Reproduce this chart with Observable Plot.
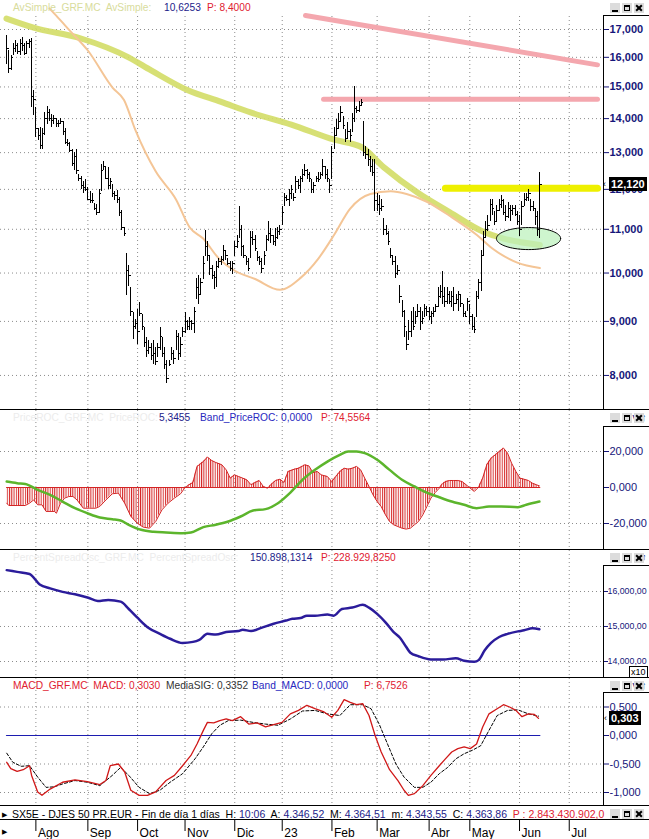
<!DOCTYPE html>
<html><head><meta charset="utf-8">
<script src="https://cdn.jsdelivr.net/npm/d3@7"></script>
<script src="https://cdn.jsdelivr.net/npm/@observablehq/plot@0.6"></script>
<style>
body{margin:0;background:#fff}
#c{position:relative;width:649px;height:839px;overflow:hidden;background:#fff;font-family:"Liberation Sans",Arial,sans-serif;font-size:11px}
.hl{position:absolute;left:0;width:649px;height:1px;background:#000}
.axbox{position:absolute;left:603px;width:46px;border-left:1px solid #000;border-top:1px solid #000;box-sizing:border-box}
.t{position:absolute;white-space:nowrap;font-size:10.5px;line-height:12px}
.h{font-size:10.2px}
.bx{position:absolute;width:10px;height:10px;background:#dcdcdc;box-sizing:border-box}
.bx.u::after{content:"";position:absolute;left:2px;top:7px;width:6px;height:2px;background:#000}
.bx.s::after{content:"";position:absolute;left:2px;top:2px;width:6px;height:6px;border:1px solid #000;border-top-width:2px;box-sizing:border-box}
.bx.x::before,.bx.x::after{content:"";position:absolute;left:1px;top:4px;width:8px;height:2px;background:#000;transform:rotate(45deg)}
.bx.x::after{transform:rotate(-45deg)}
.lbl{position:absolute;background:#000;color:#fff;font-weight:bold;font-size:11px;line-height:14px;padding:0 2px}
</style></head>
<body>
<svg width="0" height="0" style="position:absolute"><defs>
<pattern id="hatch" patternUnits="userSpaceOnUse" width="2.26" height="8"><rect x="0" y="0" width="1" height="8" fill="#d42424"/></pattern>
</defs></svg>
<div id="c"></div>
<script>
// ---------- DATA ----------
// daily bars (trading-day index 0 = mid July 2022)
const barHi = [16.78,16.24,16.07,16.5,16.6,16.5,16.65,16.7,16.5,16.55,16.65,16.68,14.9,
14.35,13.7,13.72,13.7,14.18,14.38,14.28,14.12,14.1,14.0,13.95,14.0,13.9,13.7,13.37,13.3,13.1,13.0,13.09,12.4,12.35,12.2,12.25,
12.05,11.95,11.9,11.64,11.6,12.0,12.67,12.75,12.6,12.58,12.3,12.13,11.95,11.97,11.8,11.45,11.05,10.43,10.17,9.68,9.17,9.03,
9.23,9.38,9.13,8.88,8.69,8.63,8.57,8.63,8.5,8.57,8.88,8.69,8.5,8.27,8.27,8.5,8.45,8.82,8.76,8.69,8.88,
9.17,9.01,9.07,9.01,9.27,9.89,9.95,9.89,10.37,10.97,10.7,10.37,10.17,10.04,10.25,10.32,10.37,10.62,10.5,10.32,10.25,10.25,
10.7,10.85,11.55,11.08,10.62,10.37,10.32,10.95,10.95,10.85,10.48,10.37,10.32,10.48,10.85,11.2,11.01,10.85,11.01,11.05,11.08,
11.55,11.9,11.83,12.0,12.1,11.9,12.35,12.27,12.35,12.53,12.67,12.53,12.45,12.27,12.19,12.35,12.45,12.45,12.81,12.62,12.53,12.27,
13.17,13.74,13.96,14.17,14.36,14.05,13.66,13.87,13.66,14.17,15.03,14.36,14.52,14.58,13.9,13.17,13.09,12.9,12.81,12.81,
11.9,11.83,11.75,11.25,11.08,10.95,10.55,10.37,10.37,10.17,9.74,9.41,9.21,8.8,9.01,9.2,9.27,9.2,9.33,9.27,9.2,9.33,9.3,
9.27,9.2,9.27,9.33,9.68,9.74,10.04,9.68,9.68,9.61,9.61,9.68,9.55,9.61,9.55,9.33,9.2,9.47,
9.33,9.13,9.07,9.61,9.85,10.5,10.95,11.18,11.33,11.75,11.75,11.43,11.58,11.75,11.83,11.75,11.58,11.65,11.58,11.58,11.58,11.43,
11.33,11.68,11.9,11.9,12.0,11.75,11.68,11.5,11.43,12.45];
const barLo = [15.75,15.45,15.55,16.07,16.17,16.1,16.05,16.2,16.05,16.1,16.3,14.35,14.1,
13.45,13.35,13.09,13.1,13.5,13.83,13.9,13.72,13.83,13.72,13.72,13.83,13.5,13.23,13.17,13.0,12.6,12.5,12.4,12.2,12.0,11.9,11.95,
11.7,11.64,11.64,11.45,11.33,11.38,11.95,12.5,12.27,12.0,12.0,11.8,11.7,11.64,11.3,10.97,10.82,9.52,9.72,9.1,8.65,8.85,
8.55,9.1,8.82,8.5,8.32,8.37,8.27,8.2,8.18,8.32,8.45,8.32,8.1,7.86,8.15,8.27,8.2,8.45,8.27,8.32,8.69,
8.76,8.82,8.82,8.82,8.76,9.43,9.33,9.53,9.85,10.37,10.25,9.95,9.85,9.64,9.68,10.1,10.17,10.25,10.28,10.17,10.04,9.97,
10.37,10.55,10.78,10.37,10.32,10.17,10.04,10.32,10.62,10.48,10.25,10.17,9.99,10.17,10.48,10.7,10.66,10.62,10.6,10.75,10.85,
11.08,11.55,11.68,11.55,11.75,11.68,11.9,12.0,11.9,12.19,12.35,12.27,12.19,11.9,11.9,12.19,12.19,12.27,12.35,12.27,12.19,11.9,
12.27,13.09,13.46,13.66,13.87,13.66,13.28,13.37,13.28,13.57,13.87,14.17,14.2,14.36,12.9,12.81,12.62,12.45,12.35,11.43,
11.43,11.33,11.43,10.85,10.85,10.62,10.32,10.17,9.89,9.95,9.35,9.07,8.69,8.45,8.63,8.69,8.82,8.94,9.07,8.82,8.94,9.07,9.1,
9.01,8.94,9.07,9.2,9.27,9.47,9.33,9.27,9.33,9.33,9.27,9.2,9.33,9.2,9.27,9.07,9.07,9.2,
8.94,8.82,8.76,9.07,9.45,9.6,10.37,10.78,10.95,11.18,11.33,11.08,11.18,11.43,11.5,11.33,11.18,11.25,11.18,11.33,11.3,11.08,
10.82,11.08,11.55,11.68,11.68,11.43,11.43,11.08,10.82,10.78];
const barCl = [16.3,15.6,16.0,16.3,16.4,16.2,16.5,16.4,16.15,16.5,16.55,14.7,14.6,
13.7,13.5,13.2,13.55,14.0,14.2,14.0,13.95,14.0,13.85,13.85,13.9,13.6,13.3,13.25,13.05,12.7,12.9,12.5,12.3,12.1,12.05,12.0,
11.75,11.7,11.72,11.5,11.4,11.9,12.5,12.6,12.3,12.1,12.2,11.9,11.85,11.75,11.4,11.05,10.9,10.06,9.95,9.2,8.9,8.95,
8.8,9.15,8.9,8.6,8.45,8.5,8.35,8.4,8.25,8.5,8.7,8.4,8.2,7.95,8.2,8.4,8.3,8.7,8.4,8.55,8.8,
9.0,8.9,9.0,8.95,9.2,9.7,9.55,9.8,10.2,10.6,10.4,10.1,9.95,9.9,10.15,10.25,10.3,10.5,10.4,10.2,10.1,10.2,
10.6,10.7,11.0,10.6,10.4,10.25,10.1,10.8,10.75,10.55,10.35,10.25,10.1,10.4,10.75,10.9,10.85,10.7,10.8,10.95,11.0,
11.4,11.8,11.75,11.9,12.0,11.8,12.2,12.1,12.3,12.4,12.5,12.4,12.3,12.0,12.1,12.3,12.25,12.4,12.6,12.4,12.3,12.1,
13.0,13.5,13.7,13.9,14.2,13.8,13.4,13.6,13.5,14.0,14.3,14.25,14.4,14.5,13.0,12.95,12.8,12.6,12.45,11.7,
11.6,11.5,11.55,11.0,10.9,10.7,10.4,10.25,10.0,10.05,9.5,9.2,8.9,8.55,8.8,9.0,8.9,9.1,9.2,9.0,9.05,9.25,9.2,
9.1,9.15,9.2,9.3,9.5,9.6,9.5,9.4,9.55,9.4,9.5,9.35,9.45,9.55,9.35,9.15,9.1,9.4,
9.1,8.9,8.85,9.5,9.8,10.4,10.8,11.0,11.1,11.6,11.5,11.2,11.45,11.6,11.7,11.4,11.3,11.5,11.45,11.5,11.35,11.2,
11.0,11.55,11.75,11.8,11.9,11.55,11.5,11.3,11.0,12.12];

// moving averages (read at sample bars)
const avLongIdx = [0,12,33,54,64,80,95,108,126,145,157,167,182,196,211,220,236];
const avLongVal = [17.41,17.07,16.67,16.0,15.55,14.9,14.52,14.19,13.82,13.37,13.16,12.59,11.91,11.42,10.94,10.78,10.63];
const avShortIdx = [19,22,28,36,47,52,57,66,75,81,87,94,101,110,121,130,138,145,152,161,170,177,186,196,208,215,226,236];
const avShortVal = [17.80,17.52,16.96,16.24,14.97,14.58,13.66,12.48,11.74,11.05,10.78,10.32,10.05,9.87,9.64,9.89,10.32,10.87,11.5,11.88,11.95,11.88,11.68,11.33,10.87,10.55,10.23,10.11];
// drawn objects
const pinkTrendIdx = [132.3, 261.5], pinkTrendVal = [17.53, 15.74];
const pinkFlatIdx = [140.3, 261.5], pinkFlatVal = [14.6, 14.6];
const yellowIdx = [194.2, 261.5], yellowVal = [12.03, 12.03];
const ellipseCenter = [231, 10.78], ellipseRadius = [14.2, 0.024];

// PriceROC panel
const rocIdx = [0.1,1,4.7,8.3,10.2,12,13.8,15.7,17.5,21.2,22.1,23.9,25.7,27.6,29.4,31.2,34,36.7,39.5,41.3,44,46.8,49.5,52.3,55,57.8,60.5,63.3,66,68.8,71.5,74.3,77,78.8,80.7,82.5,84.3,87.1,88.9,90.8,92.6,95.3,97.2,99,100.8,102.7,104.5,106.3,108.2,110,111.8,113.6,115.5,117.3,119.1,121,122.8,124.6,127.4,129.2,132,133.8,135.6,137.5,139.3,142,143.9,145.7,147.5,149.4,151.2,153,154.9,156.7,158.5,160.4,162.2,164,165.8,167.7,169.5,171.3,173.2,175,176.8,178.7,180.5,182.3,184.2,186,187.8,189.7,191.5,192.4,194.2,196.1,197.9,199.7,201.6,203.4,205.2,207,208.9,210.7,212.5,214.4,216.2,218,219.9,221.7,223.5,225.4,227.2,229,230.9,232.7,234.5,235.8];
const rocVal = [-8.7,-10,-10,-10,-8.7,-6.9,-9.6,-9.6,-13.3,-13.3,-14.3,-8.7,-5.9,-5,-5,-6.9,-11.5,-11.5,-11.5,-10.5,-6.9,-3.5,-3.1,-8.7,-16,-19.8,-22,-22.6,-18.9,-12.4,-8.7,-5.9,-3.5,-0.4,1.5,2.8,11.7,14.4,16.9,15,13.9,12.6,9.8,5.2,7,6.1,5.2,4.3,1.5,2.8,3.9,0.6,-0.4,2,3.9,4.6,2.8,8.9,10.2,10.7,12.6,12,8.3,8.9,7,6.1,3.3,6.1,8.9,10.7,10.2,10.7,11.7,9.8,5.2,0.6,-4.1,-7.8,-10.6,-15.2,-18.9,-20.7,-21.7,-22.6,-23.1,-22.6,-20.7,-18.9,-15.2,-10.6,-5.9,-2.8,-0.4,1.5,3.3,3.9,3.9,3.9,3.3,1.5,-0.4,-2.2,0.2,5.2,12.6,16.3,18.1,20,21.9,19.1,13.5,8.9,5.2,4.6,3.9,2.4,1.5,0.9];
const rocSigIdx = [0.1,4.7,8.3,13.8,19.3,24.8,30.3,35.8,41.3,46.8,50.5,54.1,59.6,65.1,70.6,77.9,81.6,87.1,92.6,98.1,103.6,109.1,114.6,120.1,125.6,131.0,136.5,142.0,147.5,151.2,154.9,158.5,164.0,169.5,175.0,180.5,186.0,191.5,197.0,202.5,208.0,213.5,218.9,226.3,230.0,235.8];
const rocSigVal = [3.3,2.4,2,-1.3,-4.1,-7.8,-11.5,-14.3,-16.7,-17.6,-18.3,-20.7,-23.5,-24.6,-25,-25.4,-25,-22,-20.7,-18.9,-16.1,-12.8,-12,-8.7,-2.8,4.3,9.8,14.4,18.1,20,20,19.1,15.4,9.8,4.3,0.6,-2.8,-5.4,-7.8,-9.6,-11.5,-10.6,-10.6,-10.9,-9.6,-7.8];

// PercentSpreadOsc panel
const psoIdx = [0.1,4.7,10.2,14.7,19.3,24.8,30.3,35.8,40.4,45.0,50.5,54.1,57.8,62.4,67.9,72.4,77.9,82.5,85.3,88.9,92.6,97.2,102.7,104.5,108.2,112.7,118.2,123.7,126.5,130.1,132.9,136.5,142.0,144.8,148.4,153.0,157.6,160.4,164.0,167.7,171.3,174.1,176.8,178.7,182.3,187.8,193.3,198.8,202.5,207.0,208.9,211.6,214.4,218.0,221.7,226.3,229.0,232.7,235.8];
const psoVal = [16.61,16.56,16.5,16.2,16.09,15.99,15.92,15.83,15.73,15.76,15.71,15.5,15.26,14.98,14.79,14.65,14.53,14.56,14.62,14.79,14.77,14.84,14.87,14.91,14.87,14.96,15.08,15.17,15.22,15.24,15.31,15.31,15.34,15.31,15.5,15.54,15.62,15.54,15.36,15.12,14.84,14.68,14.42,14.25,14.15,14.06,14.06,14.09,14.02,13.99,14.04,14.32,14.53,14.7,14.79,14.86,14.89,14.95,14.92];

// MACD panel
const macdIdx = [0.1,1.9,4.7,7.4,10.2,11.1,13.8,15.7,19.3,24.8,30.3,35.8,41.3,44.0,45.9,49.5,52.3,55.0,58.7,62.4,66.0,70.6,74.3,77.9,81.6,84.3,87.1,88.9,91.7,94.4,97.2,99.9,103.6,107.2,110.9,114.6,118.2,121.9,125.6,129.2,132.9,136.5,140.2,143.9,146.6,149.4,152.1,154.9,157.6,160.4,163.1,165.8,169.5,173.2,175.9,177.8,180.5,184.2,187.8,191.5,194.2,197.0,199.7,202.5,205.2,208.0,210.7,213.5,217.1,219.9,222.6,225.4,228.1,230.9,233.6,235.4];
const macdVal = [-0.47,-0.58,-0.63,-0.6,-0.53,-0.7,-0.99,-1.05,-0.94,-0.82,-0.78,-0.81,-0.86,-0.79,-0.53,-0.5,-0.64,-0.96,-1.05,-1.05,-0.99,-0.79,-0.7,-0.53,-0.35,-0.15,0.09,0.23,0.22,0.26,0.29,0.26,0.33,0.2,0.22,0.15,0.19,0.23,0.38,0.44,0.53,0.47,0.42,0.32,0.44,0.63,0.58,0.54,0.56,0.35,0.0,-0.29,-0.6,-0.79,-0.96,-1.05,-1.02,-0.88,-0.7,-0.53,-0.41,-0.29,-0.23,-0.2,-0.23,-0.15,0.15,0.38,0.47,0.54,0.5,0.44,0.33,0.38,0.37,0.30];
const sigIdx = [0.1,2.8,6.5,10.2,13.8,17.5,21.2,24.8,30.3,35.8,41.3,46.8,50.5,54.1,58.7,63.3,67.9,72.4,77.9,83.4,87.1,90.8,94.4,98.1,103.6,109.1,114.6,120.1,125.6,131.0,136.5,142.0,147.5,152.1,157.6,161.3,164.9,168.6,172.3,175.9,180.5,184.2,187.8,191.5,195.2,198.8,202.5,206.1,209.8,213.5,217.1,221.7,226.3,230.9,235.4];
const sigVal = [-0.31,-0.47,-0.54,-0.53,-0.73,-0.91,-0.9,-0.85,-0.79,-0.82,-0.88,-0.7,-0.56,-0.7,-0.91,-1.02,-0.96,-0.82,-0.67,-0.41,-0.2,0.03,0.18,0.26,0.27,0.23,0.2,0.18,0.29,0.43,0.44,0.38,0.35,0.54,0.54,0.47,0.2,-0.15,-0.5,-0.73,-0.91,-0.91,-0.82,-0.67,-0.56,-0.41,-0.32,-0.26,-0.18,0.09,0.35,0.44,0.45,0.38,0.34];
const bandIdx = [0, 236], bandVal = [0, 0];

// axes
const monthIdx = [13,36,58,79,101,122,144,164,187,205,227,249];
const monthLbl = ["Ago","Sep","Oct","Nov","Dic","23","Feb","Mar","Abr","May","Jun","Jul"];
const p1Ticks = [8,9,10,11,12,13,14,15,16,17];
const p2Ticks = [20,0,-20];
const p3Ticks = [16,15,14];
const p4Ticks = [0.5,0,-0.5,-1];

// ---------- DRAW ----------
const C = document.getElementById("c");
const zip = (xs, ys) => xs.slice(0, Math.min(xs.length, ys.length)).map((x, k) => ({i: x, v: ys[k]}));
const bars = barHi.map((h, k) => ({i: k, hi: h, lo: barLo[k], cl: barCl[k]}));
const months = monthIdx.map((m, k) => ({i: m, label: monthLbl[k]}));
const comma = (v, n) => v.toFixed(n).replace(".", ",");
const xScale = {domain: [-6 / 2.26, 597 / 2.26], range: [0, 603], axis: null};
const grid = {stroke: "#8c8c8c", strokeDasharray: "1,3"};
const NAVY = "#16167a";

function add(el, top) {
  el.style.position = "absolute";
  el.style.left = "0px";
  el.style.top = top + "px";
  C.appendChild(el);
}
function base(h, y, marks, fs) {
  return Plot.plot({
    width: 649, height: h, marginLeft: 0, marginRight: 46, marginTop: 0, marginBottom: 0,
    x: xScale, y,
    style: {background: "transparent", fontFamily: "Liberation Sans, Arial, sans-serif", fontSize: (fs || 11) + "px", color: NAVY, overflow: "visible"},
    marks
  });
}
function html(s) { C.insertAdjacentHTML("beforeend", s); }

// axis boxes (behind the plots)
html('<div class="axbox" style="top:15px;height:395px"></div>');
html('<div class="axbox" style="top:426px;height:124px"></div>');
html('<div class="axbox" style="top:565px;height:113px"></div>');
html('<div class="axbox" style="top:692px;height:114px"></div>');

// Panel 1: price
const ell = d3.range(0, 73).map(k => {
  const t = k / 72 * 2 * Math.PI;
  return {i: ellipseCenter[0] + ellipseRadius[0] * Math.cos(t), v: ellipseCenter[1] * Math.exp(ellipseRadius[1] * Math.sin(t))};
});
add(base(409, {type: "log", domain: [7.428, 18.109]}, [
  Plot.ruleY(p1Ticks, grid),
  Plot.ruleX(monthIdx, {...grid, y1: 7.428, y2: 17.5}),
  Plot.line(zip(pinkTrendIdx, pinkTrendVal), {x: "i", y: "v", stroke: "#f4a7ae", strokeWidth: 5}),
  Plot.line(zip(pinkFlatIdx, pinkFlatVal), {x: "i", y: "v", stroke: "#f4a7ae", strokeWidth: 5}),
  Plot.line(zip(yellowIdx, yellowVal), {x: "i", y: "v", stroke: "#eef000", strokeWidth: 7}),
  Plot.line(zip(avLongIdx, avLongVal), {x: "i", y: "v", stroke: "#d3dd66", strokeWidth: 6, strokeOpacity: 0.9, curve: "monotone-x"}),
  Plot.line(zip(avShortIdx, avShortVal), {x: "i", y: "v", stroke: "#f4c596", strokeWidth: 2, curve: "monotone-x"}),
  Plot.line(ell, {x: "i", y: "v", fill: "#bdf2bd", fillOpacity: 0.75, stroke: "#000", strokeWidth: 1}),
  Plot.ruleX(bars, {x: "i", y1: "lo", y2: "hi", stroke: "#000", strokeWidth: 1, shapeRendering: "crispEdges"}),
  Plot.link(bars, {x1: "i", x2: d => d.i + 0.9, y1: "cl", y2: "cl", stroke: "#000", strokeWidth: 1, shapeRendering: "crispEdges"}),
  Plot.axisY({ticks: p1Ticks, anchor: "right", tickFormat: d => comma(d, 3), tickSize: 5, tickPadding: 1, fontWeight: "bold"})
]), 0);

// Panel 2: PriceROC
const roc = zip(rocIdx, rocVal);
add(base(139, {domain: [-34.44, 42.78]}, [
  Plot.ruleY(p2Ticks.filter(d => d !== 0), grid),
  Plot.ruleX(monthIdx, grid),
  Plot.areaY(roc, {x: "i", y1: 0, y2: "v", fill: "url(#hatch)"}),
  Plot.line(roc, {x: "i", y: "v", stroke: "#d42424", strokeWidth: 1}),
  Plot.line(zip(bandIdx, bandVal), {x: "i", y: "v", stroke: "#d42424", strokeWidth: 1}),
  Plot.line(zip(rocSigIdx, rocSigVal), {x: "i", y: "v", stroke: "#5cb52c", strokeWidth: 2.5, curve: "monotone-x"}),
  Plot.axisY({ticks: p2Ticks, anchor: "right", tickFormat: d => comma(d, 3), tickSize: 5, tickPadding: 1})
]), 410);

// Panel 3: PercentSpreadOsc
add(base(127, {domain: [13.543, 17.171]}, [
  Plot.ruleY(p3Ticks, grid),
  Plot.ruleX(monthIdx, grid),
  Plot.line(zip(psoIdx, psoVal), {x: "i", y: "v", stroke: "#2b1c9b", strokeWidth: 2.5, curve: "monotone-x"}),
  Plot.axisY({ticks: p3Ticks, anchor: "right", tickFormat: d => comma(d, 3) + ",00", tickSize: 4, tickPadding: 0})
], 8.8), 550);

// Panel 4: MACD
add(base(127, {domain: [-1.228, 1.0]}, [
  Plot.ruleY(p4Ticks.filter(d => d !== 0), grid),
  Plot.ruleX(monthIdx, grid),
  Plot.line(zip(bandIdx, bandVal), {x: "i", y: "v", stroke: "#1c1cb0", strokeWidth: 1.2}),
  Plot.line(zip(sigIdx, sigVal), {x: "i", y: "v", stroke: "#000", strokeWidth: 1, strokeDasharray: "3,2"}),
  Plot.line(zip(macdIdx, macdVal), {x: "i", y: "v", stroke: "#d01818", strokeWidth: 1.3}),
  Plot.axisY({ticks: p4Ticks, anchor: "right", tickFormat: d => comma(d, 3), tickSize: 5, tickPadding: 1})
]), 678);

// time axis bar
add(Plot.plot({
  width: 649, height: 19, marginLeft: 0, marginRight: 46, marginTop: 0, marginBottom: 0,
  x: xScale, y: {domain: [0, 19], range: [0, 19], axis: null},
  style: {background: "transparent", fontFamily: "Liberation Sans, Arial, sans-serif", overflow: "visible"},
  marks: [
    Plot.ruleX(monthIdx, {y1: 0, y2: 11, stroke: "#000"}),
    Plot.text(months, {x: "i", y: 13, text: "label", textAnchor: "start", dx: 2, fontSize: 12, fill: "#000"})
  ]
}), 820);

// separators
[409, 549, 677, 805, 819].forEach(y => html(`<div class="hl" style="top:${y}px"></div>`));

// headers
html('<div class="t h" style="left:13px;top:2px;color:#d8dc9c">AvSimple_GRF.MC&nbsp; AvSimple:</div>');
html('<div class="t h" style="left:164px;top:2px;color:#22228a">10,6253</div>');
html('<div class="t h" style="left:207px;top:2px;color:#e02030">P: 8,4000</div>');

html('<div class="t h" style="left:13px;top:412px;color:#ececec">PriceROC_GRF.MC&nbsp; PriceROC:</div>');
html('<div class="t h" style="left:159px;top:412px;color:#22228a">5,3455</div>');
html('<div class="t h" style="left:200px;top:412px;color:#2828c0">Band_PriceROC: 0,0000</div>');
html('<div class="t h" style="left:321px;top:412px;color:#e02030">P: 74,5564</div>');

html('<div class="t h" style="left:13px;top:552px;color:#ececec">PercentSpreadOsc_GRF.MC&nbsp; PercentSpreadOsc:</div>');
html('<div class="t h" style="left:250px;top:552px;color:#22228a">150.898,1314</div>');
html('<div class="t h" style="left:321px;top:552px;color:#e02030">P: 228.929,8250</div>');

html('<div class="t h" style="left:13px;top:680px;color:#e02030">MACD_GRF.MC&nbsp; MACD: 0,3030</div>');
html('<div class="t h" style="left:166px;top:680px;color:#333">MediaSIG: 0,3352</div>');
html('<div class="t h" style="left:252px;top:680px;color:#2828c0">Band_MACD: 0,0000</div>');
html('<div class="t h" style="left:364px;top:680px;color:#e02030">P: 6,7526</div>');

// window buttons (drawn shapes)
[3, 413, 553, 681, 809].forEach(y => {
  html(`<div class="bx u" style="left:610px;top:${y}px"></div><div class="bx s" style="left:622px;top:${y}px"></div><div class="bx x" style="left:634px;top:${y}px"></div>`);
});

// current value labels
html('<div class="t" style="left:603px;top:178px;font-size:9px;color:#000">‹</div>');
html('<div class="lbl" style="left:609px;top:177px">12,120</div>');
html('<div class="t" style="left:604px;top:712px;font-size:9px;color:#000">‹</div>');
html('<div class="lbl" style="left:609px;top:711px">0,303</div>');
html('<div class="t" style="left:629px;top:666px;font-size:9px;line-height:10px;color:#000;border:1px solid #000;background:#fff;padding:0 1px">x10</div>');

// status bar
html('<div class="t" style="left:2px;top:809px;font-size:7px;color:#000">▶</div>');
html('<div class="t" style="left:2px;top:826px;font-size:7px;color:#000">▶</div>');
html('<div class="t" style="left:12px;top:808px;width:594px;overflow:hidden;color:#000">SX5E - DJES 50 PR.EUR - Fin de día 1 días&nbsp; H: <span style="color:#22228a">10:06</span>&nbsp; A: <span style="color:#22228a">4.346,52</span>&nbsp; M: <span style="color:#22228a">4.364,51</span>&nbsp; m: <span style="color:#22228a">4.343,55</span>&nbsp; C: <span style="color:#22228a">4.363,86</span>&nbsp; <span style="color:#e02030">P : 2.843.430.902,0</span></div>');
</script>
</body></html>
